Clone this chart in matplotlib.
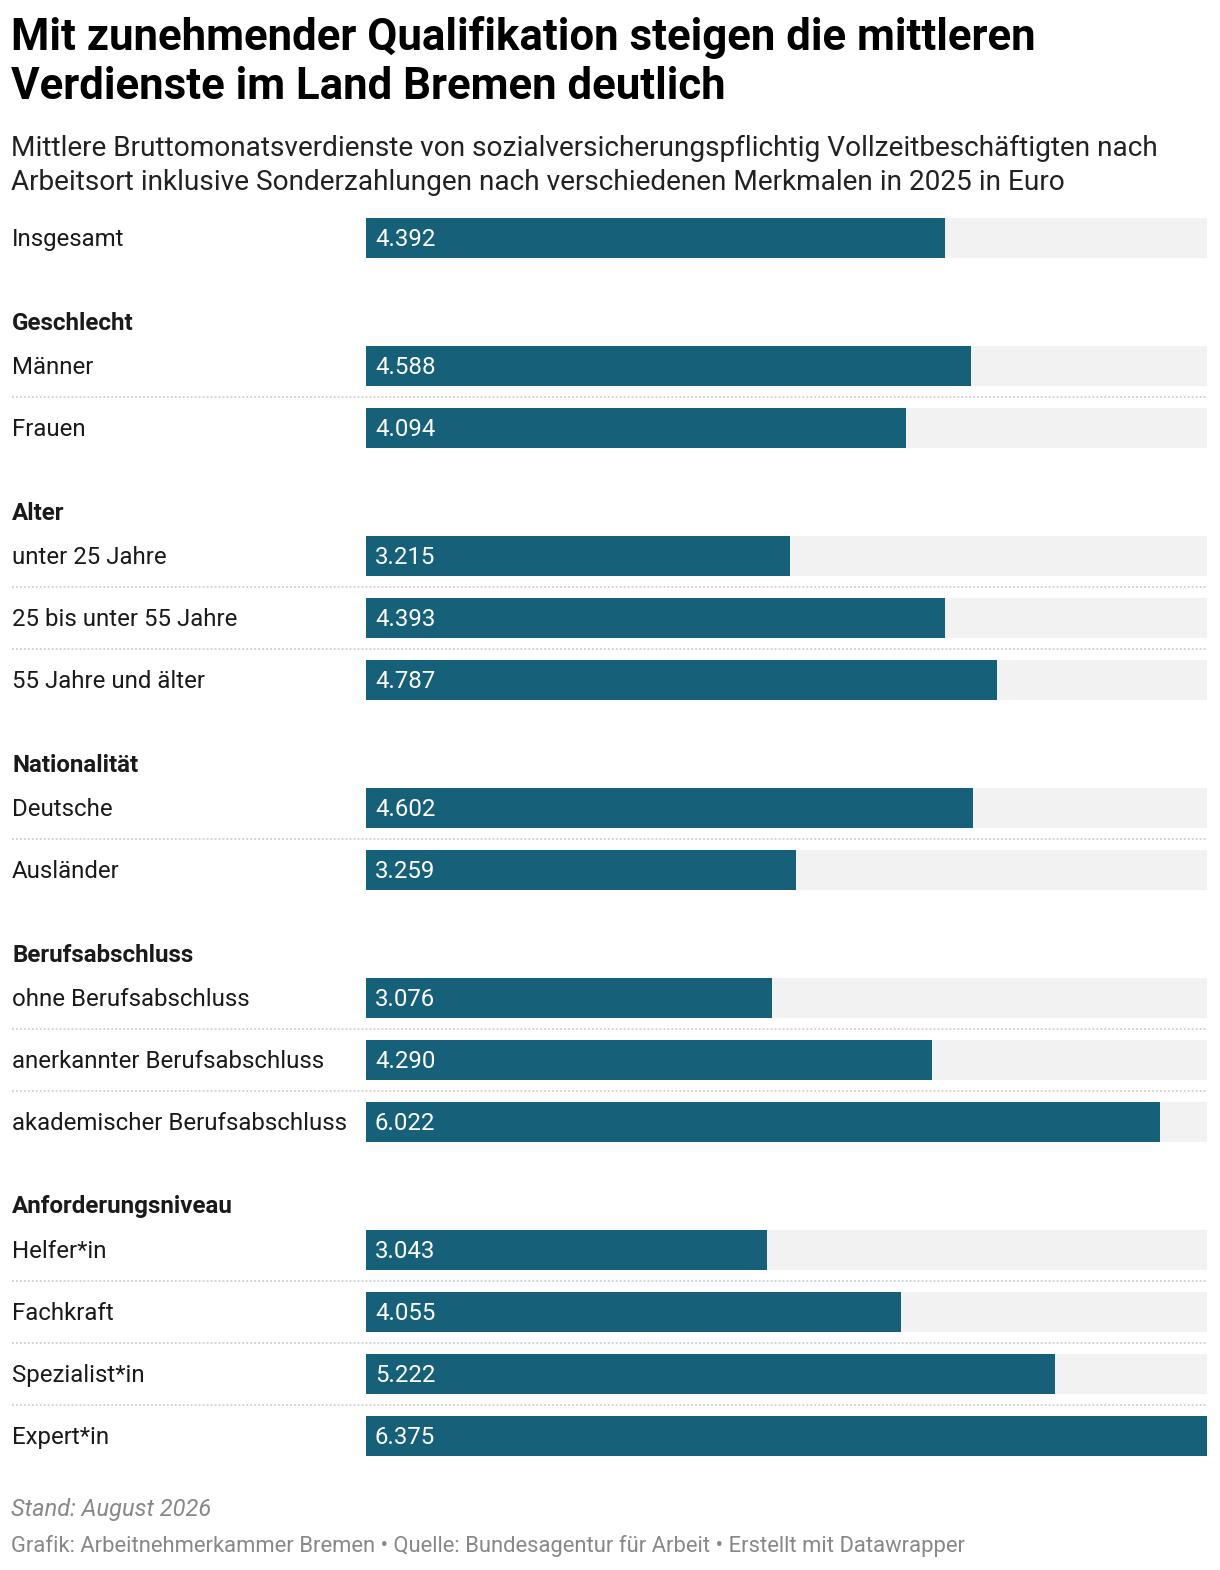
import matplotlib.pyplot as plt
from matplotlib.transforms import blended_transform_factory

plt.rcParams['font.family'] = ['Roboto', 'DejaVu Sans']

# Daten
groups = ['', 'Geschlecht', 'Alter', 'Nationalität', 'Berufsabschluss', 'Anforderungsniveau']
labels = [
    ['Insgesamt'],
    ['Männer', 'Frauen'],
    ['unter 25 Jahre', '25 bis unter 55 Jahre', '55 Jahre und älter'],
    ['Deutsche', 'Ausländer'],
    ['ohne Berufsabschluss', 'anerkannter Berufsabschluss', 'akademischer Berufsabschluss'],
    ['Helfer*in', 'Fachkraft', 'Spezialist*in', 'Expert*in'],
]
values = [
    [4392],
    [4588, 4094],
    [3215, 4393, 4787],
    [4602, 3259],
    [3076, 4290, 6022],
    [3043, 4055, 5222, 6375],
]

W, H = 1220, 1570
bar_col = '#16607a'
bg_col = '#f2f2f2'
xmax = max(max(v) for v in values)

fig = plt.figure(figsize=(W / 100, H / 100), dpi=100)
ax = fig.add_axes([365.5 / W, 0, 841.5 / W, 1])
ax.set_xlim(0, xmax)
ax.set_ylim(H, 0)
ax.axis('off')

trans = blended_transform_factory(fig.transFigure, ax.transData)

# Titel
fig.text(11 / W, 1 - 50 / H, 'Mit zunehmender Qualifikation steigen die mittleren',
         fontsize=31.5, fontweight='bold', color='#000000')
fig.text(11 / W, 1 - 99 / H, 'Verdienste im Land Bremen deutlich',
         fontsize=31.5, fontweight='bold', color='#000000')
fig.text(11 / W, 1 - 156 / H,
         'Mittlere Bruttomonatsverdienste von sozialversicherungspflichtig Vollzeitbeschäftigten nach',
         fontsize=20.15, color='#222222')
fig.text(11 / W, 1 - 190 / H,
         'Arbeitsort inklusive Sonderzahlungen nach verschiedenen Merkmalen in 2025 in Euro',
         fontsize=20.15, color='#222222')

# Balken
y = 237.5
for gi, (g, labs, vals) in enumerate(zip(groups, labels, values)):
    if g:
        y += 84
        ax.text(12 / W, y + 8, g, transform=trans, fontsize=17.4, fontweight='bold',
                color='#1a1a1a', va='baseline')
        y += 44
    for i, (lab, v) in enumerate(zip(labs, vals)):
        if i > 0:
            y += 62
            ax.plot([12 / W, 1206 / W], [y - 31, y - 31], transform=trans, color='#cfcfcf',
                    linestyle=(0, (1, 1.2)), linewidth=1.3, clip_on=False)
        ax.barh(y, xmax, height=40, color=bg_col, zorder=1)
        ax.barh(y, v, height=40, color=bar_col, zorder=2)
        ax.text(12 / W, y + 8.5, lab, transform=trans, fontsize=17.3, color='#1a1a1a',
                va='baseline')
        ax.text(375 / W, y + 8.5, f'{v:,}'.replace(',', '.'), transform=trans,
                fontsize=17.3, color='white', va='baseline', zorder=3)

# Fußzeile
fig.text(11 / W, 1 - 1516 / H, 'Stand: August 2026', fontsize=17, style='italic',
         color='#888888')
fig.text(11 / W, 1 - 1552 / H,
         'Grafik: Arbeitnehmerkammer Bremen • Quelle: Bundesagentur für Arbeit • Erstellt mit Datawrapper',
         fontsize=15.8, color='#888888')

fig.savefig('out.png', dpi=100, facecolor='white')
